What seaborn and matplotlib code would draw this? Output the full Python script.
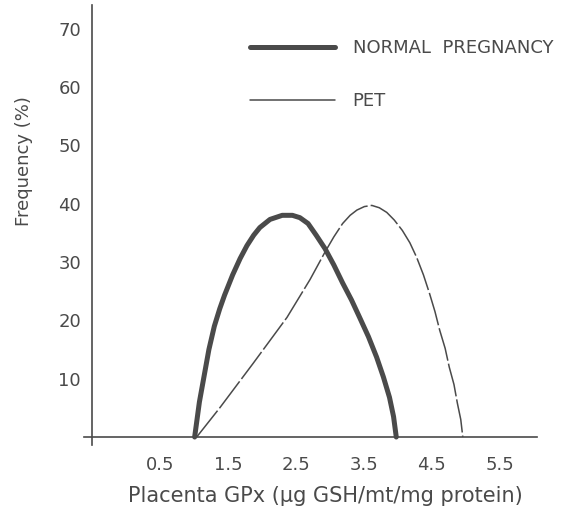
import pandas as pd
import matplotlib.pyplot as plt
import seaborn as sns

# normal pregnancy curve
normal_x = [1.01, 1.08, 1.15, 1.22, 1.30, 1.38, 1.45, 1.57, 1.68, 1.78, 1.88, 1.97, 2.12, 2.30,
            2.45, 2.56, 2.68, 2.80, 2.93, 3.06, 3.19, 3.32, 3.44, 3.57, 3.69, 3.79, 3.88, 3.94, 3.98]
normal_y = [0.0, 6.0, 10.5, 15.0, 19.0, 22.0, 24.3, 27.8, 30.6, 32.8, 34.6, 35.9, 37.3, 38.0,
            38.0, 37.6, 36.6, 34.6, 32.3, 29.5, 26.4, 23.5, 20.5, 17.2, 13.7, 10.3, 6.8, 3.5, 0.0]

# PET curve
pet_x = [1.04, 1.38, 1.87, 2.37, 2.71, 2.93, 3.06, 3.19, 3.30, 3.40, 3.51, 3.62, 3.73, 3.84, 3.95,
         4.07, 4.18, 4.28, 4.38, 4.47, 4.55, 4.62, 4.70, 4.76, 4.83, 4.88, 4.93, 4.96]
pet_y = [0.0, 5.0, 12.6, 20.5, 27.0, 31.7, 34.3, 36.6, 38.0, 38.9, 39.5, 39.7, 39.3, 38.5, 37.2,
         35.4, 33.3, 30.8, 27.8, 24.6, 21.5, 18.3, 15.2, 12.0, 9.0, 5.8, 3.0, 0.0]

x_ticks = [0.5, 1.5, 2.5, 3.5, 4.5, 5.5]
y_ticks = [10, 20, 30, 40, 50, 60, 70]

sns.set_style("white")
plt.rcParams['font.family'] = ['DejaVu Sans']
ink = '#4a4a4a'

df_normal = pd.DataFrame({'x': normal_x, 'y': normal_y})
df_pet = pd.DataFrame({'x': pet_x, 'y': pet_y})

fig = plt.figure(figsize=(5.66, 5.15), dpi=100)
ax = fig.add_axes([0.1484, 0.1367, 0.800, 0.853])

sns.lineplot(x='x', y='y', data=df_normal, sort=False, ax=ax, color=ink,
             linewidth=3.6, label='NORMAL  PREGNANCY')
sns.lineplot(x='x', y='y', data=df_pet, sort=False, ax=ax, color=ink,
             linewidth=1.1, label='PET')
ax.lines[-1].set_linestyle((0, (22, 2)))
for ln in ax.lines:
    ln.set_solid_joinstyle('round')
    ln.set_dash_joinstyle('round')

ax.set_xlim(-0.62, 6.05)
ax.set_ylim(-1.3, 74)
ax.spines['left'].set_position(('data', -0.5))
ax.spines['bottom'].set_position(('data', 0))
for s in ['top', 'right']:
    ax.spines[s].set_visible(False)
for s in ['left', 'bottom']:
    ax.spines[s].set_color(ink)
    ax.spines[s].set_linewidth(1.2)

ax.set_xticks(x_ticks)
ax.set_xticklabels([str(t) for t in x_ticks])
ax.set_yticks(y_ticks)
ax.tick_params(axis='both', direction='out', length=5, width=1.2, color=ink,
               labelcolor=ink, labelsize=13)
ax.tick_params(axis='x', pad=9)
ax.tick_params(axis='y', pad=3)

ax.set_xlabel('Placenta GPx (μg GSH/mt/mg protein)', fontsize=15, color=ink)
ax.set_ylabel('Frequency (%)', fontsize=13, color=ink)
ax.xaxis.set_label_coords(0.532, -0.094)
ax.yaxis.set_label_coords(-0.113, 0.645)

leg = ax.legend(loc='upper left', bbox_to_anchor=(0.33, 0.96), frameon=False,
                fontsize=13, handlelength=4.7, handletextpad=1.0,
                labelspacing=1.95, labelcolor=ink)
for h in leg.get_lines():
    h.set_linestyle('-')

fig.savefig('out.png', dpi=100)
